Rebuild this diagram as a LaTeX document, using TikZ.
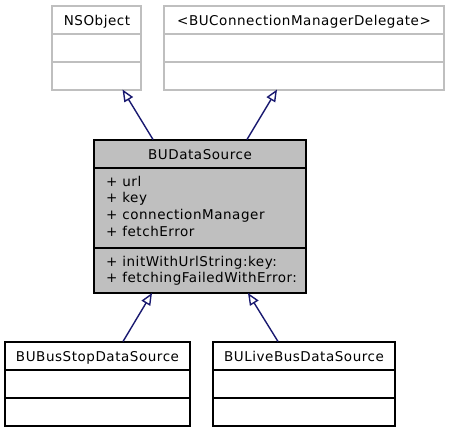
\documentclass[tikz,border=0pt]{standalone}
\usepackage{fontspec}
\setmainfont{DejaVu Sans}[LetterSpace=4]
\usetikzlibrary{arrows.meta,calc}
\definecolor{edgecol}{HTML}{191970}
\definecolor{boxgrey}{HTML}{BFBFBF}
\definecolor{lightborder}{HTML}{BFBFBF}
\begin{document}
\begin{tikzpicture}[x=1pt,y=-1pt,
  box/.style={draw=black,line width=1.3pt,fill=white},
  graybox/.style={draw=lightborder,line width=1.3pt,fill=white},
  txt/.style={inner sep=0pt,font=\fontsize{13.5}{16.7}\selectfont},
  inh/.style={draw=edgecol,line width=1.4pt,-{Triangle[open,length=12pt,width=10pt,fill=white]}}
]
\useasboundingbox (0,0) rectangle (449,432);

% top boxes
\path[graybox] (52,6) rectangle (141,90);
\draw[lightborder,line width=1.3pt] (52,34) -- (141,34) (52,62) -- (141,62);
\node[txt,anchor=base] (nso) at (97,25.5) {NSObject};

\path[graybox] (164,6) rectangle (444,90);
\draw[lightborder,line width=1.3pt] (164,34) -- (444,34) (164,62) -- (444,62);
\node[txt,anchor=base] (bcm) at (304,25.5) {<BUConnectionManagerDelegate>};

% main box
\path[box,fill=boxgrey] (94,140) rectangle (306,293);
\draw[black,line width=1.3pt] (94,168) -- (306,168) (94,248) -- (306,248);
\node[txt,anchor=base] (ds) at (200,159.5) {BUDataSource};
\node[txt,anchor=base west] (a1) at (106,186) {+ url};
\node[txt,anchor=base west] (a2) at (106,202.7) {+ key};
\node[txt,anchor=base west] (a3) at (106,219.4) {+ connectionManager};
\node[txt,anchor=base west] (a4) at (106,236.1) {+ fetchError};
\node[txt,anchor=base west] (m1) at (106,266) {+ initWithUrlString:key:};
\node[txt,anchor=base west] (m2) at (106,282.7) {+ fetchingFailedWithError:};

% bottom boxes
\path[box] (5,342) rectangle (190,426);
\draw[black,line width=1.3pt] (5,370) -- (190,370) (5,398) -- (190,398);
\node[txt,anchor=base] (bs) at (97.5,361.5) {BUBusStopDataSource};

\path[box] (213,342) rectangle (395,426);
\draw[black,line width=1.3pt] (213,370) -- (395,370) (213,398) -- (395,398);
\node[txt,anchor=base] (lb) at (304,361.5) {BULiveBusDataSource};

% named anchor points on box borders
\coordinate (dsTopL) at (153,139.5);
\coordinate (dsTopR) at (247,139.5);
\coordinate (nsoBot) at (122.5,89.5);
\coordinate (bcmBot) at (277,89.5);
\coordinate (dsBotL) at (152,293);
\coordinate (dsBotR) at (248,293);
\coordinate (bsTop) at (123,341.5);
\coordinate (lbTop) at (278,341.5);

\draw[inh] (dsTopL) -- (nsoBot);
\draw[inh] (dsTopR) -- (bcmBot);
\draw[inh] (bsTop) -- (dsBotL);
\draw[inh] (lbTop) -- (dsBotR);
\end{tikzpicture}
\end{document}
